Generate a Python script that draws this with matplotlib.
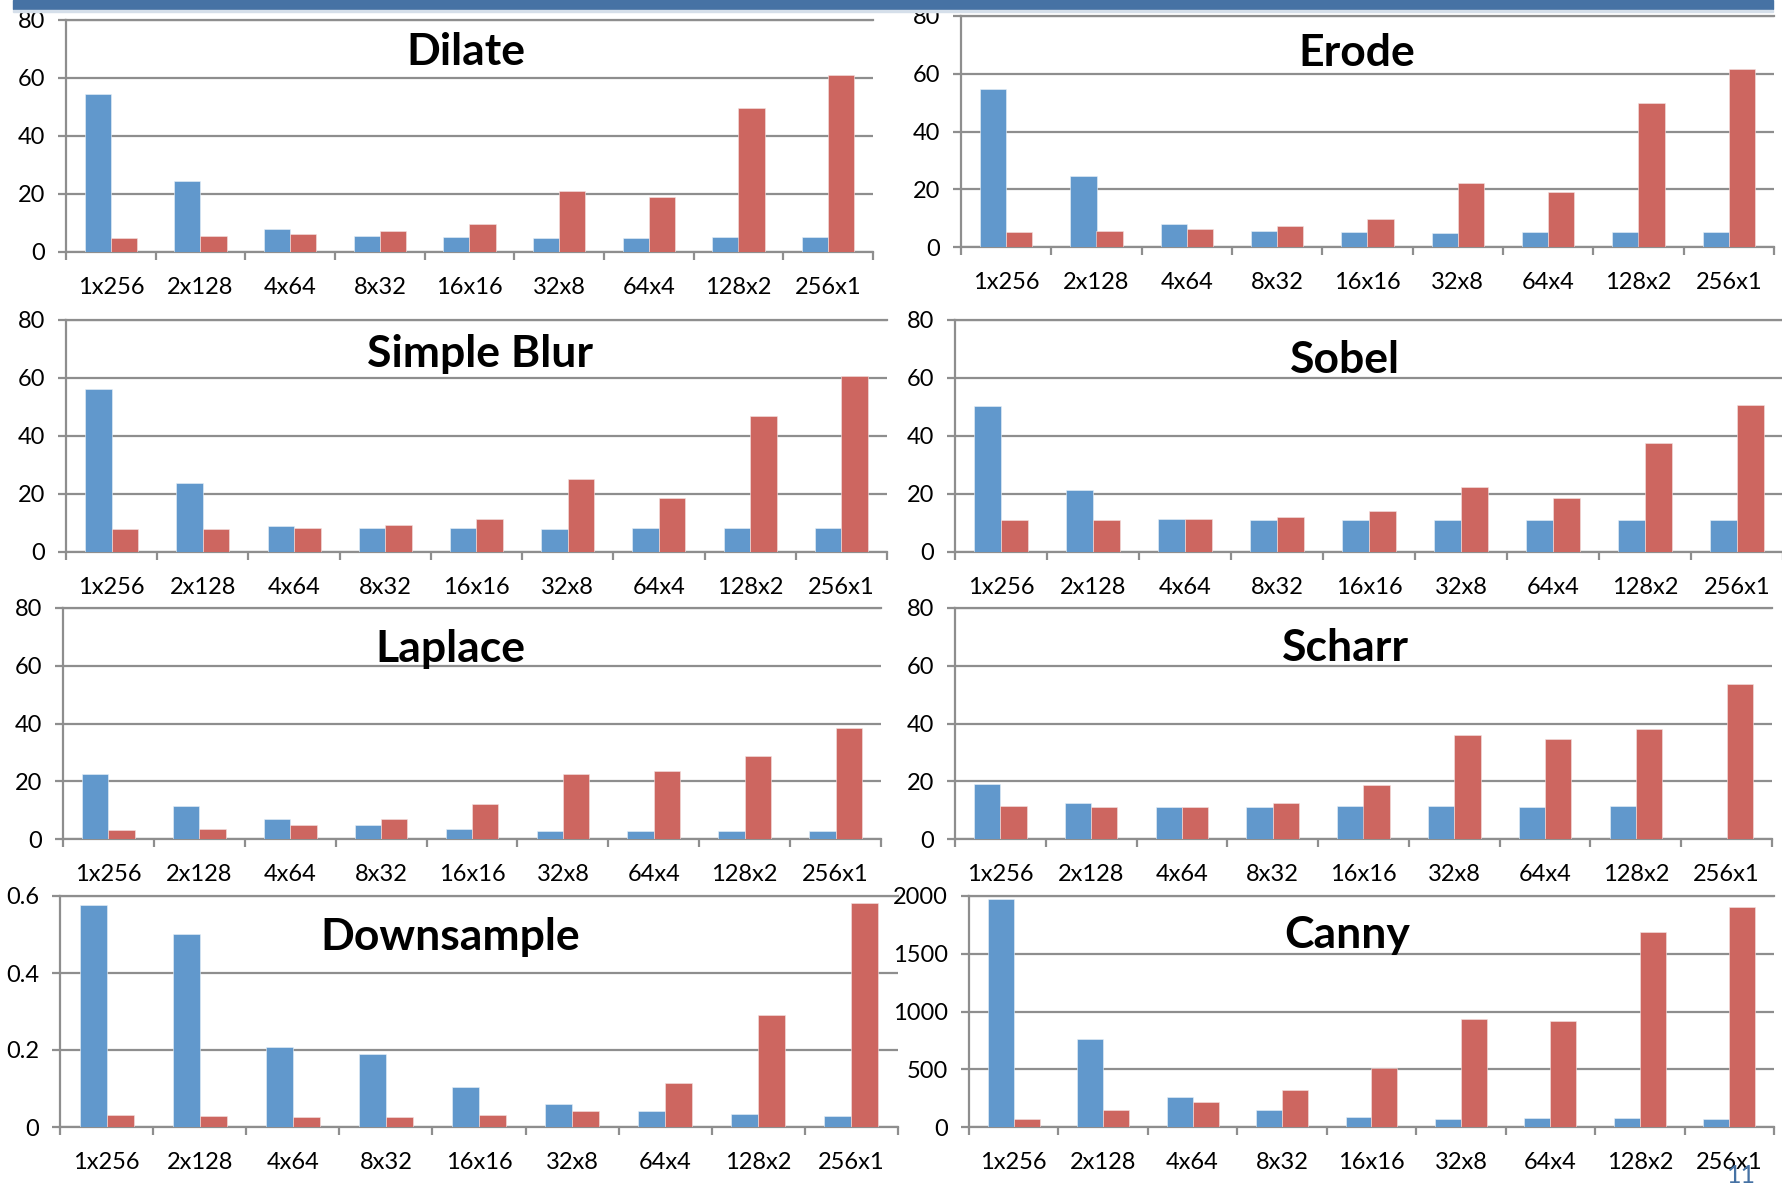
import numpy as np
import matplotlib
matplotlib.use("Agg")
import matplotlib.pyplot as plt
from matplotlib.ticker import FixedLocator

plt.rcParams['font.family'] = ['Lato', 'DejaVu Sans']

# block shapes (threads per block)
shapes = ["1x256", "2x128", "4x64", "8x32", "16x16", "32x8", "64x4", "128x2", "256x1"]

# blue / red series for each kernel
dilate_blue = [54.6, 24.4, 8.1, 5.5, 5.2, 4.9, 4.9, 5.2, 5.2]
dilate_red = [4.9, 5.5, 6.1, 7.3, 9.6, 21.1, 19.1, 49.6, 61.1]
erode_blue = [54.8, 24.7, 7.8, 5.7, 5.2, 4.8, 5.2, 5.2, 5.2]
erode_red = [5.2, 5.7, 6.3, 7.2, 9.7, 22.0, 19.0, 49.7, 61.8]
blur_blue = [56.2, 23.8, 8.8, 8.4, 8.4, 8.0, 8.4, 8.4, 8.4]
blur_red = [8.0, 8.0, 8.4, 9.2, 11.4, 25.2, 18.6, 46.8, 60.6]
sobel_blue = [50.5, 21.5, 11.5, 11.0, 11.0, 11.0, 11.0, 11.0, 11.0]
sobel_red = [11.0, 11.0, 11.3, 12.0, 14.0, 22.3, 18.5, 37.6, 50.8]
laplace_blue = [22.6, 11.5, 7.0, 5.0, 3.5, 2.8, 2.8, 2.8, 2.7]
laplace_red = [3.0, 3.3, 4.8, 7.0, 12.0, 22.5, 23.7, 28.7, 38.4]
scharr_blue = [18.9, 12.3, 11.0, 11.0, 11.6, 11.3, 11.0, 11.3, 0.0]
scharr_red = [11.6, 11.0, 11.0, 12.3, 18.6, 36.0, 34.6, 38.2, 53.8]
down_blue = [0.576, 0.501, 0.207, 0.190, 0.104, 0.060, 0.042, 0.035, 0.029]
down_red = [0.031, 0.029, 0.027, 0.027, 0.031, 0.042, 0.113, 0.290, 0.583]
canny_blue = [1974, 766, 261, 149, 89, 66, 75, 80, 66]
canny_red = [66, 143, 218, 324, 511, 933, 915, 1690, 1908]

W, H = 1783, 1188
BLUE = "#6198CC"
RED = "#CD6660"
GRID = "#8E8E8E"

fig = plt.figure(figsize=(W / 100, H / 100), dpi=100)
fig.patch.set_facecolor("white")

# slide header strip
fig.patches.append(plt.Rectangle((13 / W, 1 - 9 / H), 1760 / W, 9 / H,
                                 transform=fig.transFigure, color="#4672A4", zorder=5))
fig.patches.append(plt.Rectangle((13 / W, 1 - 12 / H), 1760 / W, 2 / H,
                                 transform=fig.transFigure, color="#D5DFEA", zorder=5))


def panel(box, title, title_xy, blue, red, ymax, yticks, ylabels):
    L, R, T, B = box
    ax = fig.add_axes([L / W, 1 - B / H, (R - L) / W, (B - T) / H])
    x = np.arange(len(shapes))
    w = 0.29
    ax.bar(x - w / 2, blue, w, color=BLUE, edgecolor="#EAF1F8", linewidth=0.4, zorder=3)
    ax.bar(x + w / 2, red, w, color=RED, edgecolor="#F5E3E2", linewidth=0.4, zorder=3)
    ax.set_xlim(-0.5, len(shapes) - 0.5)
    ax.set_ylim(0, ymax)

    ax.set_yticks(yticks)
    ax.set_yticklabels(ylabels)
    ax.yaxis.grid(True, color=GRID, linewidth=1.6, zorder=0)
    ax.set_axisbelow(True)

    ax.set_xticks(x)
    ax.set_xticklabels(shapes)
    ax.xaxis.set_minor_locator(FixedLocator(np.arange(-0.5, len(shapes), 1.0)))
    ax.tick_params(axis="x", which="major", length=0, pad=18, labelsize=17)
    ax.tick_params(axis="x", which="minor", length=6, width=1.6, color=GRID, direction="out")
    ax.tick_params(axis="y", length=6, width=1.6, color=GRID, pad=9, labelsize=17)

    ax.spines["right"].set_visible(False)
    for side in ["left", "bottom", "top"]:
        ax.spines[side].set_color(GRID)
        ax.spines[side].set_linewidth(1.6)
    ax.patch.set_alpha(0)

    fig.text(title_xy[0] / W, 1 - title_xy[1] / H, title, fontsize=32,
             fontweight="bold", ha="center", va="center")
    return ax


ticks80 = [0, 20, 40, 60, 80]
labels80 = ["0", "20", "40", "60", "80"]

panel((66, 873, 20, 252), "Dilate", (466, 52), dilate_blue, dilate_red, 80, ticks80, labels80)
panel((961, 1774, 16, 247), "Erode", (1357, 53), erode_blue, erode_red, 80, ticks80, labels80)
panel((66, 887, 320, 552), "Simple Blur", (480, 354), blur_blue, blur_red, 80, ticks80, labels80)
panel((955, 1783, 320, 552), "Sobel", (1345, 360), sobel_blue, sobel_red, 80, ticks80, labels80)
panel((63, 881, 608, 839), "Laplace", (450, 649), laplace_blue, laplace_red, 80, ticks80, labels80)
panel((955, 1772, 608, 839), "Scharr", (1345, 648), scharr_blue, scharr_red, 80, ticks80, labels80)
panel((60, 898, 896, 1127), "Downsample", (450, 937), down_blue, down_red, 0.6,
      [0, 0.2, 0.4, 0.6], ["0", "0.2", "0.4", "0.6"])
panel((969, 1774, 896, 1127), "Canny", (1347, 935), canny_blue, canny_red, 2000,
      [0, 500, 1000, 1500, 2000], ["0", "500", "1000", "1500", "2000"])

# slide number
fig.text(1741 / W, 1 - 1187 / H, "11", fontsize=18, color="#4672A4", ha="center", va="bottom")

fig.savefig("out.png", dpi=100, facecolor="white")
